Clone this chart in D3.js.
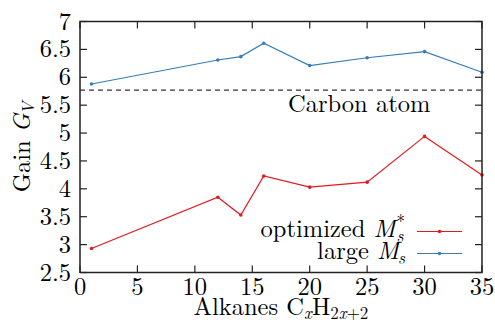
<!DOCTYPE html>
<html>
<head>
<meta charset="utf-8">
<script src="https://cdn.jsdelivr.net/npm/d3@7"></script>
<style>
  body { margin: 0; background: #fff; }
</style>
</head>
<body>
<div id="chart"></div>
<script>
// Data
const alkanes = [1, 12, 14, 16, 20, 25, 30, 35];
const optimized = [2.93, 3.85, 3.53, 4.23, 4.03, 4.12, 4.94, 4.25];
const large = [5.88, 6.31, 6.37, 6.61, 6.21, 6.35, 6.46, 6.09];
const carbonAtom = 5.77;
const xTicks = [0, 5, 10, 15, 20, 25, 30, 35];
const yTicks = [2.5, 3, 3.5, 4, 4.5, 5, 5.5, 6, 6.5, 7];

const W = 495, H = 323;
const margin = { top: 21.5, right: 13, bottom: 50.5, left: 80 };
const width = W - margin.left - margin.right;
const height = H - margin.top - margin.bottom;
const FONT = "'Latin Modern Roman', 'Liberation Serif'";
const FS = 24.5, SFS = 17;

const svg = d3.select("#chart").append("svg")
    .attr("width", W).attr("height", H);
const g = svg.append("g")
    .attr("transform", "translate(" + margin.left + "," + margin.top + ")");

const x = d3.scaleLinear().domain([0, 35]).range([0, width]);
const y = d3.scaleLinear().domain([2.5, 7]).range([height, 0]);

const red = "#e41a1c", blue = "#377eb8";

function txt(parent) {
    return parent.append("text").style("font-family", FONT).attr("fill", "#000");
}

// Ticks on all four sides, pointing inward
const tickLen = 7;
g.append("g").selectAll("line").data(yTicks).enter().append("line")
    .attr("x1", 0).attr("x2", tickLen)
    .attr("y1", d => y(d)).attr("y2", d => y(d))
    .attr("stroke", "#222").attr("stroke-width", 1.2);
g.append("g").selectAll("line").data(yTicks).enter().append("line")
    .attr("x1", width).attr("x2", width - tickLen)
    .attr("y1", d => y(d)).attr("y2", d => y(d))
    .attr("stroke", "#222").attr("stroke-width", 1.2);
g.append("g").selectAll("line").data(xTicks).enter().append("line")
    .attr("x1", d => x(d)).attr("x2", d => x(d))
    .attr("y1", height).attr("y2", height - tickLen)
    .attr("stroke", "#222").attr("stroke-width", 1.2);
g.append("g").selectAll("line").data(xTicks).enter().append("line")
    .attr("x1", d => x(d)).attr("x2", d => x(d))
    .attr("y1", 0).attr("y2", tickLen)
    .attr("stroke", "#222").attr("stroke-width", 1.2);

// Tick labels
g.append("g").selectAll("text").data(yTicks).enter().append("text")
    .style("font-family", FONT)
    .attr("x", -9).attr("y", d => y(d) + 8)
    .attr("text-anchor", "end").attr("font-size", FS)
    .text(d => d);
g.append("g").selectAll("text").data(xTicks).enter().append("text")
    .style("font-family", FONT)
    .attr("x", d => x(d)).attr("y", height + 22)
    .attr("text-anchor", "middle").attr("font-size", FS)
    .text(d => d);

// Carbon atom reference line
g.append("line")
    .attr("x1", 0).attr("x2", width)
    .attr("y1", y(carbonAtom)).attr("y2", y(carbonAtom))
    .attr("stroke", "#000").attr("stroke-width", 1)
    .attr("stroke-dasharray", "5,4");
txt(g).attr("x", 208).attr("y", 90)
    .attr("font-size", FS)
    .text("Carbon atom");

// Series
const series = [
    { name: "optimized", values: optimized, color: red },
    { name: "large", values: large, color: blue }
];
const line = d3.line().x(d => x(d[0])).y(d => y(d[1]));
series.forEach(s => {
    const pts = alkanes.map((a, i) => [a, s.values[i]]);
    g.append("path").datum(pts)
        .attr("d", line).attr("fill", "none")
        .attr("stroke", s.color).attr("stroke-width", 1.2);
    g.append("g").selectAll("circle").data(pts).enter().append("circle")
        .attr("cx", d => x(d[0])).attr("cy", d => y(d[1]))
        .attr("r", 1.8).attr("fill", s.color);
});

// Frame
g.append("rect")
    .attr("width", width).attr("height", height)
    .attr("fill", "none").attr("stroke", "#222").attr("stroke-width", 1.5);

// Legend
function mathLabel(parent, ax, ay, word, sup) {
    const t = txt(parent).attr("x", ax).attr("y", ay)
        .attr("font-size", FS).attr("text-anchor", "end");
    t.append("tspan").text(word + " ");
    t.append("tspan").attr("font-style", "italic").text("M");
    if (sup) {
        t.append("tspan").attr("font-size", SFS).attr("dy", -10).attr("dx", 1).text(sup);
        t.append("tspan").attr("font-size", SFS).attr("font-style", "italic")
            .attr("dy", 15).attr("dx", -8.5).text("s");
    } else {
        t.append("tspan").attr("font-size", SFS).attr("font-style", "italic")
            .attr("dy", 5).attr("dx", -1).text("s");
    }
    return t;
}
const legend = svg.append("g");
const legendRows = [
    { label: "optimized", sup: "*", color: red, y: 231.5 },
    { label: "large", sup: null, color: blue, y: 253.5 }
];
legendRows.forEach(r => {
    mathLabel(legend, 405, r.y + 5.5, r.label, r.sup);
    legend.append("line")
        .attr("x1", 417).attr("x2", 462).attr("y1", r.y).attr("y2", r.y)
        .attr("stroke", r.color).attr("stroke-width", 1.2);
    legend.append("circle")
        .attr("cx", 439.5).attr("cy", r.y).attr("r", 1.8).attr("fill", r.color);
});

// Axis titles
const xt = txt(svg)
    .attr("x", 281).attr("y", 315)
    .attr("text-anchor", "middle").attr("font-size", FS);
xt.append("tspan").text("Alkanes C");
xt.append("tspan").attr("font-size", SFS).attr("font-style", "italic").attr("dy", 3.5).text("x");
xt.append("tspan").attr("font-size", FS).attr("dy", -3.5).text("H");
xt.append("tspan").attr("font-size", SFS).attr("dy", 3.5).text("2");
xt.append("tspan").attr("font-size", SFS).attr("font-style", "italic").text("x");
xt.append("tspan").attr("font-size", SFS).text("+2");

const yt = txt(svg)
    .attr("transform", "translate(30,147) rotate(-90)")
    .attr("text-anchor", "middle").attr("font-size", FS);
yt.append("tspan").text("Gain ");
yt.append("tspan").attr("font-style", "italic").text("G");
yt.append("tspan").attr("font-size", SFS).attr("font-style", "italic").attr("dy", 4).attr("dx", -1).text("V");
</script>
</body>
</html>
